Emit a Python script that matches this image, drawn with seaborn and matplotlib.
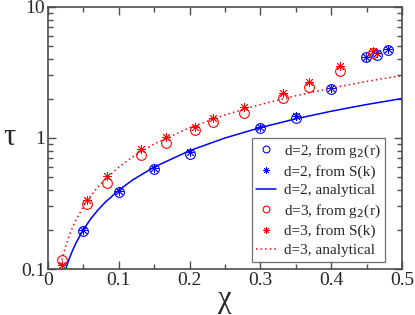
import matplotlib
matplotlib.use("Agg")
import matplotlib.pyplot as plt
import matplotlib.ticker as mticker
import seaborn as sns

# d=2 simulation points
CHI_D2 = [0.05, 0.10, 0.15, 0.20, 0.30, 0.35, 0.40, 0.449, 0.464, 0.480]
TAU_D2_G2 = [0.195, 0.385, 0.575, 0.76, 1.19, 1.43, 2.38, 4.12, 4.33, 4.70]
TAU_D2_SK = [0.200, 0.395, 0.590, 0.78, 1.22, 1.47, 2.42, 4.18, 4.42, 4.80]

# d=3 simulation points
CHI_D3 = [0.0193, 0.0555, 0.0829, 0.132, 0.166, 0.208, 0.233, 0.277, 0.332, 0.368, 0.413, 0.459]
TAU_D3_G2 = [0.117, 0.313, 0.451, 0.741, 0.91, 1.16, 1.32, 1.56, 2.03, 2.46, 3.25, 4.43]
TAU_D3_SK = [0.108, 0.336, 0.515, 0.824, 1.02, 1.22, 1.41, 1.71, 2.22, 2.69, 3.55, 4.64]

# analytical curves
CHI_LINE_D2 = [0.025, 0.03, 0.035, 0.04, 0.05, 0.06, 0.07, 0.08, 0.10, 0.12,
               0.15, 0.20, 0.25, 0.30, 0.35, 0.40, 0.45, 0.50]
TAU_LINE_D2 = [0.10, 0.12, 0.14, 0.16, 0.20, 0.24, 0.28, 0.32, 0.40, 0.48,
               0.60, 0.80, 1.00, 1.20, 1.40, 1.60, 1.80, 2.00]
CHI_LINE_D3 = [0.0167, 0.02, 0.025, 0.03, 0.035, 0.04, 0.05, 0.06, 0.07, 0.08,
               0.10, 0.12, 0.15, 0.20, 0.25, 0.30, 0.35, 0.40, 0.45, 0.50]
TAU_LINE_D3 = [0.10, 0.12, 0.15, 0.18, 0.21, 0.24, 0.30, 0.36, 0.42, 0.48,
               0.60, 0.72, 0.90, 1.20, 1.50, 1.80, 2.10, 2.40, 2.70, 3.00]

X_TICKS = [0, 0.1, 0.2, 0.3, 0.4, 0.5]
Y_TICKS = [0.1, 1, 10]

BLUE = "#0000ff"
RED = "#ff0000"
STAR = (8, 2, 0)

sns.set_style("ticks")
plt.rcParams["font.family"] = ["Liberation Serif", "DejaVu Serif"]

fig = plt.figure(figsize=(4.15, 3.15), dpi=100)
ax = fig.add_axes([0.1157, 0.146, 0.853, 0.832])

sns.lineplot(x=CHI_D2, y=TAU_D2_G2, ax=ax, linestyle="none", marker="o",
             markersize=7, markerfacecolor="none", markeredgecolor=BLUE,
             markeredgewidth=0.8, label="d=2, from g$_2$(r)")
sns.lineplot(x=CHI_D2, y=TAU_D2_SK, ax=ax, linestyle="none", marker=STAR,
             markersize=6.5, markeredgecolor=BLUE, color=BLUE,
             markeredgewidth=0.6, label="d=2, from S(k)")
sns.lineplot(x=CHI_LINE_D2, y=TAU_LINE_D2, ax=ax, color=BLUE, linewidth=1.1,
             label="d=2, analytical")
sns.lineplot(x=CHI_D3, y=TAU_D3_G2, ax=ax, linestyle="none", marker="o",
             markersize=7, markerfacecolor="none", markeredgecolor=RED,
             markeredgewidth=0.8, label="d=3, from g$_2$(r)")
sns.lineplot(x=CHI_D3, y=TAU_D3_SK, ax=ax, linestyle="none", marker=STAR,
             markersize=6.5, markeredgecolor=RED, color=RED,
             markeredgewidth=0.6, label="d=3, from S(k)")
sns.lineplot(x=CHI_LINE_D3, y=TAU_LINE_D3, ax=ax, color=RED, linewidth=1.1,
             linestyle=(0, (1, 2)), label="d=3, analytical")

ax.set_yscale("log")
ax.set_xlim(0, 0.5)
ax.set_ylim(0.1, 10)
ax.set_xticks(X_TICKS)
ax.xaxis.set_minor_locator(mticker.MultipleLocator(0.05))
ax.set_yticks(Y_TICKS)
ax.xaxis.set_major_formatter(mticker.FuncFormatter(lambda v, p: f"{v:g}"))
ax.yaxis.set_major_formatter(mticker.FuncFormatter(lambda v, p: f"{v:g}"))
ax.yaxis.set_minor_formatter(mticker.NullFormatter())
ax.tick_params(which="both", direction="in", top=True, right=True,
               color="0.3", width=1.0, labelsize=14, pad=2)
ax.tick_params(which="major", length=6)
ax.tick_params(which="minor", length=3.5)
for s in ax.spines.values():
    s.set_color("0.3")
    s.set_linewidth(1.2)

ax.set_xlabel("χ", fontsize=22, labelpad=-3)
ax.set_ylabel("τ", fontsize=22, rotation=0, labelpad=8, va="center")

leg = ax.legend(loc="upper left", bbox_to_anchor=(0.576, 0.5), borderaxespad=0,
                fontsize=11, frameon=True, fancybox=False, edgecolor="0.3",
                handlelength=1.3, handletextpad=0.5, labelspacing=0.32,
                borderpad=0.3, markerscale=0.7)
leg.get_frame().set_linewidth(0.9)

fig.savefig("out.png", dpi=100)
